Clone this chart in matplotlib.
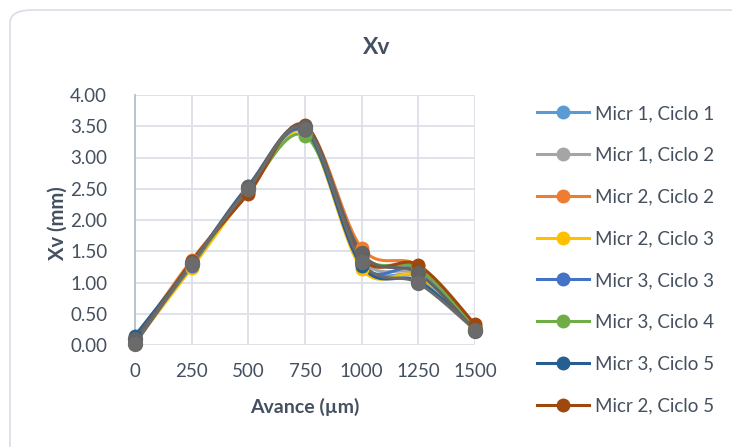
import numpy as np
import matplotlib
matplotlib.use("Agg")
import matplotlib.pyplot as plt
from matplotlib.patches import FancyBboxPatch
from matplotlib.lines import Line2D

plt.rcParams['font.family'] = ['Lato', 'DejaVu Sans']

# Feed positions (µm)
avance = [0, 250, 500, 750, 1000, 1250, 1500]

# Xv readings (mm) per micrometer / cycle
micr1_ciclo1 = [0.12, 1.28, 2.50, 3.45, 1.30, 1.08, 0.26]
micr1_ciclo2 = [0.05, 1.30, 2.48, 3.47, 1.38, 1.12, 0.27]
micr2_ciclo2 = [0.08, 1.36, 2.44, 3.50, 1.55, 1.27, 0.30]
micr2_ciclo3 = [0.04, 1.23, 2.45, 3.40, 1.22, 1.10, 0.28]
micr3_ciclo3 = [0.10, 1.27, 2.52, 3.42, 1.28, 1.20, 0.27]
micr3_ciclo4 = [0.06, 1.29, 2.47, 3.35, 1.45, 1.22, 0.29]
micr3_ciclo5 = [0.15, 1.31, 2.55, 3.44, 1.27, 1.02, 0.25]
micr2_ciclo5 = [0.02, 1.34, 2.42, 3.52, 1.40, 1.28, 0.33]
# further series plotted without a legend entry
extra_a = [0.10, 1.31, 2.53, 3.49, 1.47, 1.15, 0.23]
extra_b = [0.02, 1.30, 2.50, 3.46, 1.33, 0.99, 0.24]

legend_labels = ["Micr 1, Ciclo 1", "Micr 1, Ciclo 2", "Micr 2, Ciclo 2",
                 "Micr 2, Ciclo 3", "Micr 3, Ciclo 3", "Micr 3, Ciclo 4",
                 "Micr 3, Ciclo 5", "Micr 2, Ciclo 5"]
legend_series = [micr1_ciclo1, micr1_ciclo2, micr2_ciclo2, micr2_ciclo3,
                 micr3_ciclo3, micr3_ciclo4, micr3_ciclo5, micr2_ciclo5]
colors = ["#5B9BD5", "#A5A5A5", "#ED7D31", "#FFC000",
          "#4472C4", "#70AD47", "#255E91", "#9E480E"]
extra_series = [extra_a, extra_b]
extra_colors = ["#636363", "#6B6B6B"]

TEXT = "#44505F"
GRID = "#DCE0E7"


def bezier_smooth(xs, ys, n=40):
    """Smooth curve through the points with cubic Bezier segments."""
    p = np.column_stack([np.asarray(xs, float), np.asarray(ys, float)])
    pts = []
    for i in range(len(p) - 1):
        p0 = p[i - 1] if i > 0 else p[i]
        p1 = p[i]
        p2 = p[i + 1]
        p3 = p[i + 2] if i + 2 < len(p) else p[i + 1]
        c1 = p1 + (p2 - p0) / 6.0
        c2 = p2 - (p3 - p1) / 6.0
        t = np.linspace(0, 1, n)[:, None]
        seg = ((1 - t) ** 3) * p1 + 3 * ((1 - t) ** 2) * t * c1 \
            + 3 * (1 - t) * t ** 2 * c2 + t ** 3 * p2
        pts.append(seg if i == 0 else seg[1:])
    s = np.vstack(pts)
    return s[:, 0], s[:, 1]


fig = plt.figure(figsize=(7.32, 4.47), dpi=100)

# Rounded chart frame
frame = FancyBboxPatch((10 / 732, -20 / 447), 750 / 732, 457 / 447,
                       boxstyle="round,pad=0,rounding_size=0.03",
                       transform=fig.transFigure, facecolor="white",
                       edgecolor="#D9DDE5", linewidth=1.2, zorder=-10)
fig.patches.append(frame)

ax = fig.add_axes([135 / 732, 1 - 345 / 447, 340 / 732, 250 / 447])
ax.set_facecolor("none")

lw = 2.2
ms = 9
all_series = list(zip(legend_series, colors, [ms] * 8)) + \
    list(zip(extra_series, extra_colors, [10, 10]))
for ys, c, m in all_series:
    sx, sy = bezier_smooth(avance, ys)
    ax.plot(sx, sy, color=c, lw=lw, solid_capstyle="round", zorder=3, clip_on=False)
    ax.plot(avance, ys, linestyle="none", marker="o", markersize=m,
            color=c, markeredgecolor=c, zorder=4, clip_on=False)

ax.set_xlim(0, 1500)
ax.set_ylim(0, 4)
ax.set_xticks(avance)
ax.set_yticks(np.arange(0, 4.01, 0.5))
ax.set_yticklabels([f"{v:.2f}" for v in np.arange(0, 4.01, 0.5)])
ax.grid(True, color=GRID, linewidth=1.3, zorder=0)
ax.set_axisbelow(True)
for side in ["top", "right", "bottom"]:
    ax.spines[side].set_visible(False)
ax.spines["left"].set_color("#B7BFCE")
ax.spines["left"].set_linewidth(1.3)
ax.tick_params(axis="both", length=0, labelsize=13.5, labelcolor=TEXT)
ax.tick_params(axis="y", pad=20)
ax.tick_params(axis="x", pad=13)

ax.set_xlabel("Avance (µm)", fontsize=14, fontweight="bold", color=TEXT, labelpad=13)
ax.yaxis.set_label_coords(58 / 732, 1 - 221 / 447, transform=fig.transFigure)
ax.set_ylabel("Xv (mm)", fontsize=14.5, fontweight="bold", color=TEXT,
              va="center")

fig.text(377 / 732, 1 - 48 / 447, "Xv", ha="center", va="center",
         fontsize=16.5, fontweight="bold", color=TEXT)

handles = [Line2D([0], [0], color=c, lw=lw, marker="o", markersize=ms,
                  markeredgecolor=c) for c in colors]
leg = fig.legend(handles, legend_labels, loc="upper left",
                 bbox_to_anchor=(537 / 732, 1 - 105 / 447),
                 frameon=False, fontsize=13.5, labelcolor=TEXT,
                 handlelength=2.77, handletextpad=0.32, labelspacing=1.32,
                 borderpad=0, borderaxespad=0)

fig.savefig("out.png", dpi=100)
